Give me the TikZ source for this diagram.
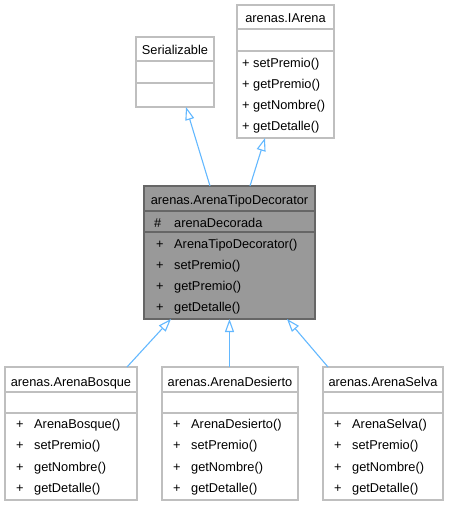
\documentclass[tikz,border=0pt]{standalone}
\usepackage{fontspec}
\setmainfont{Liberation Sans}
\usetikzlibrary{arrows.meta}
\definecolor{edgeblue}{HTML}{63B8FF}
\definecolor{boxgray}{HTML}{BFBFBF}
\definecolor{decfill}{HTML}{999999}
\definecolor{decdraw}{HTML}{666666}
\tikzset{
  box/.style={draw=boxgray, line width=1.2pt, fill=white, rectangle, anchor=north west, inner sep=0pt, outer sep=0pt},
  decbox/.style={box, draw=decdraw, fill=decfill},
  sep/.style={draw=boxgray, line width=1.2pt},
  decsep/.style={draw=decdraw, line width=1.2pt},
  txt/.style={inner sep=0pt, anchor=base west, font=\fontsize{12.8}{14}\selectfont},
  ctxt/.style={inner sep=0pt, anchor=base, font=\fontsize{12.8}{14}\selectfont},
  inh/.style={draw=edgeblue, line width=1.1pt, -{Triangle[open, length=13pt, width=9pt, fill=white]}},
}
\begin{document}
\begin{tikzpicture}[x=1pt, y=-1pt]
\useasboundingbox (0,0) rectangle (449,507);
% Serializable
\node[box, minimum width=78pt, minimum height=70pt] (ser) at (136,37) {};
\draw[sep] (136,61) -- (214,61) (136,83) -- (214,83);
\node[ctxt] (sert) at (175,54) {Serializable};
% IArena
\node[box, minimum width=97pt, minimum height=133pt] (ia) at (237,5) {};
\draw[sep] (237,29) -- (334,29) (237,51) -- (334,51);
\node[ctxt] (iat) at (285.5,22) {arenas.IArena};
\node[txt] (ia1) at (242,67) {+ setPremio()};
\node[txt] (ia2) at (242,88) {+ getPremio()};
\node[txt] (ia3) at (242,109) {+ getNombre()};
\node[txt] (ia4) at (242,130) {+ getDetalle()};
% Decorator
\node[decbox, minimum width=171pt, minimum height=133pt] (dec) at (144,186) {};
\draw[decsep] (144,211) -- (315,211) (144,232) -- (315,232);
\node[ctxt] (dect) at (229.5,204) {arenas.ArenaTipoDecorator};
\node[txt] (deca) at (154,227) {\#};
\node[txt] (decat) at (174,227) {arenaDecorada};
\node[txt] (decp1) at (156,248) {+};
\node[txt] (decm1) at (174,248) {ArenaTipoDecorator()};
\node[txt] (decp2) at (156,269) {+};
\node[txt] (decm2) at (174,269) {setPremio()};
\node[txt] (decp3) at (156,290) {+};
\node[txt] (decm3) at (174,290) {getPremio()};
\node[txt] (decp4) at (156,311) {+};
\node[txt] (decm4) at (174,311) {getDetalle()};
% Bosque
\node[box, minimum width=132pt, minimum height=133pt] (bos) at (5,367) {};
\draw[sep] (5,392) -- (137,392) (5,413) -- (137,413);
\node[ctxt] (bost) at (71,386) {arenas.ArenaBosque};
\node[txt] (bosp1) at (16,428) {+};
\node[txt] (bosm1) at (34,428) {ArenaBosque()};
\node[txt] (bosp2) at (16,449) {+};
\node[txt] (bosm2) at (34,449) {setPremio()};
\node[txt] (bosp3) at (16,471) {+};
\node[txt] (bosm3) at (34,471) {getNombre()};
\node[txt] (bosp4) at (16,492) {+};
\node[txt] (bosm4) at (34,492) {getDetalle()};
% Desierto
\node[box, minimum width=136pt, minimum height=133pt] (des) at (162,367) {};
\draw[sep] (162,392) -- (298,392) (162,413) -- (298,413);
\node[ctxt] (dest) at (230,386) {arenas.ArenaDesierto};
\node[txt] (desp1) at (173,428) {+};
\node[txt] (desm1) at (191,428) {ArenaDesierto()};
\node[txt] (desp2) at (173,449) {+};
\node[txt] (desm2) at (191,449) {setPremio()};
\node[txt] (desp3) at (173,471) {+};
\node[txt] (desm3) at (191,471) {getNombre()};
\node[txt] (desp4) at (173,492) {+};
\node[txt] (desm4) at (191,492) {getDetalle()};
% Selva
\node[box, minimum width=120pt, minimum height=133pt] (sel) at (323,367) {};
\draw[sep] (323,392) -- (443,392) (323,413) -- (443,413);
\node[ctxt] (selt) at (383,386) {arenas.ArenaSelva};
\node[txt] (selp1) at (334,428) {+};
\node[txt] (selm1) at (352,428) {ArenaSelva()};
\node[txt] (selp2) at (334,449) {+};
\node[txt] (selm2) at (352,449) {setPremio()};
\node[txt] (selp3) at (334,471) {+};
\node[txt] (selm3) at (352,471) {getNombre()};
\node[txt] (selp4) at (334,492) {+};
\node[txt] (selm4) at (352,492) {getDetalle()};
% Inheritance
\draw[inh] ([xshift=66pt]dec.north west) -- ([xshift=50pt]ser.south west);
\draw[inh] ([xshift=106pt]dec.north west) -- ([xshift=28pt]ia.south west);
\draw[inh] ([xshift=122pt]bos.north west) -- ([xshift=27pt]dec.south west);
\draw[inh] ([xshift=67.5pt]des.north west) -- ([xshift=85.5pt]dec.south west);
\draw[inh] ([xshift=5pt]sel.north west) -- ([xshift=143pt]dec.south west);
\end{tikzpicture}
\end{document}
